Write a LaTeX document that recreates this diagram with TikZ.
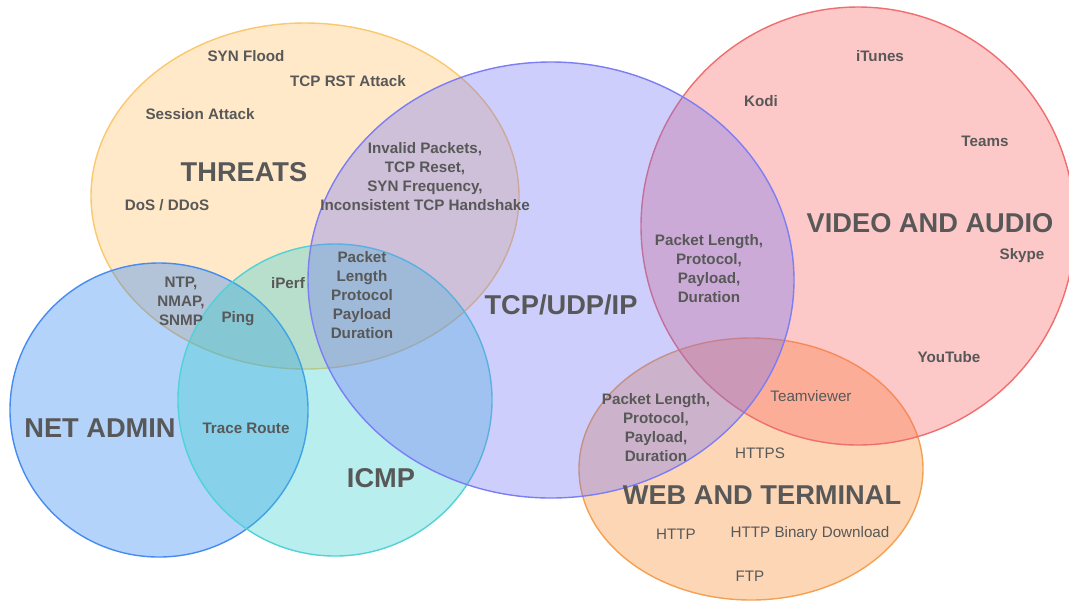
\documentclass[tikz,border=0pt]{standalone}
\usepackage{fontspec}
\setmainfont{Liberation Sans}
\usepackage{tikz}

\definecolor{labelgray}{RGB}{88,88,88}
\definecolor{threatfill}{RGB}{255,192,101}
\definecolor{threatline}{RGB}{250,200,110}
\definecolor{tcpfill}{RGB}{112,115,244}
\definecolor{tcpline}{RGB}{125,125,245}
\definecolor{videofill}{RGB}{249,98,98}
\definecolor{videoline}{RGB}{240,110,110}
\definecolor{adminfill}{RGB}{38,129,244}
\definecolor{adminline}{RGB}{70,140,240}
\definecolor{icmpfill}{RGB}{52,206,206}
\definecolor{icmpline}{RGB}{80,210,215}
\definecolor{webfill}{RGB}{249,138,46}
\definecolor{webline}{RGB}{245,160,80}

\tikzstyle{zone} = [line width=0.8pt, fill opacity=0.35]
\tikzstyle{item} = [text=labelgray, inner sep=0pt, align=center, font=\fontsize{8.65}{10.8}\selectfont\bfseries]
\tikzstyle{lightitem} = [item, font=\fontsize{8.65}{10.8}\selectfont]
\tikzstyle{zonename} = [item, font=\fontsize{15.5}{18}\selectfont\bfseries]

\begin{document}
\begin{tikzpicture}[x=0.02cm, y=-0.02cm]

        \useasboundingbox (0,0) rectangle (1069,600);

        %% sets
        \draw[zone, fill=webfill, draw=webline] (751,469) ellipse [x radius=172, y radius=131];
        \draw[zone, fill=videofill, draw=videoline] (858,226) ellipse [x radius=217, y radius=219];
        \draw[zone, fill=threatfill, draw=threatline] (305,196) ellipse [x radius=214, y radius=173];
        \draw[zone, fill=adminfill, draw=adminline] (159,410) ellipse [x radius=149, y radius=147];
        \draw[zone, fill=icmpfill, draw=icmpline] (335,400) ellipse [x radius=157, y radius=156];
        \draw[zone, fill=tcpfill, draw=tcpline] (551,280) ellipse [x radius=243, y radius=218];

        %% set names
        \node (threats) [zonename] at (244,172) {THREATS};
        \node (tcp) [zonename] at (561,305) {TCP/UDP/IP};
        \node (video) [zonename] at (930,223) {VIDEO AND AUDIO};
        \node (admin) [zonename] at (100,428) {NET ADMIN};
        \node (icmp) [zonename] at (381,478) {ICMP};
        \node (web) [zonename] at (762,495) {WEB AND TERMINAL};

        %% threats
        \node (synflood) [item] at (246,56) {SYN Flood};
        \node (rst) [item] at (348,81) {TCP RST Attack};
        \node (session) [item] at (200,114) {Session Attack};
        \node (dos) [item] at (167,205) {DoS / DDoS};
        \node (invalid) [item] at (425,177) {Invalid Packets,\\ TCP Reset,\\ SYN Frequency,\\ Inconsistent TCP Handshake};

        %% video and audio
        \node (itunes) [item] at (880,56) {iTunes};
        \node (kodi) [item] at (761,101) {Kodi};
        \node (teams) [item] at (985,141) {Teams};
        \node (skype) [item] at (1022,256) {Skype};
        \node (youtube) [item] at (949,357) {YouTube};
        \node (tcpvideo) [item] at (709,269) {Packet Length,\\ Protocol,\\ Payload,\\ Duration};

        %% web and terminal
        \node (teamviewer) [lightitem] at (811,396) {Teamviewer};
        \node (tcpweb) [item] at (656,428) {Packet Length,\\ Protocol,\\ Payload,\\ Duration};
        \node (https) [lightitem] at (760,453) {HTTPS};
        \node (http) [lightitem] at (676,534) {HTTP};
        \node (binary) [lightitem] at (810,534) {HTTP Binary Download};
        \node (ftp) [lightitem] at (750,576) {FTP};

        %% net admin and icmp
        \node (ntp) [item] at (181,301) {NTP,\\ NMAP,\\ SNMP};
        \node (ping) [item] at (238,319) {Ping};
        \node (iperf) [item] at (288,283) {iPerf};
        \node (tcpicmp) [item] at (362,295) {Packet\\ Length\\ Protocol\\ Payload\\ Duration};
        \node (trace) [item] at (246,428) {Trace Route};

\end{tikzpicture}
\end{document}
